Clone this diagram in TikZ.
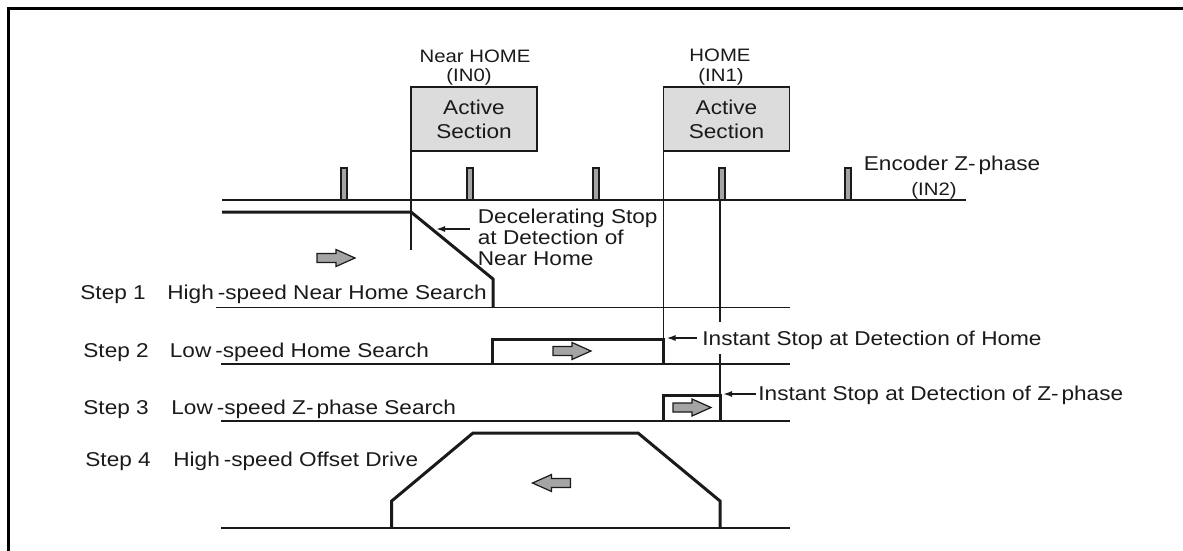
\documentclass[tikz,border=0pt]{standalone}
\usepackage{fontspec}
\setmainfont{Liberation Sans}[FakeStretch=1.13]
\usetikzlibrary{arrows.meta}
\definecolor{boxgray}{HTML}{DCDCDC}
\definecolor{arrgray}{HTML}{A4A4A4}
\definecolor{ink}{HTML}{1A1A1A}
\begin{document}
\begin{tikzpicture}[x=0.5pt,y=-0.5pt,
  frameln/.style={line width=1.5pt,draw=black},
  thinln/.style={line width=0.8pt,draw=ink},
  thickln/.style={line width=1.5pt,draw=ink,line join=miter},
  abox/.style={draw=ink,line width=0.8pt,fill=boxgray,align=center,inner sep=0pt,outer sep=0pt,
    minimum width=63pt,minimum height=32pt,anchor=north west,font=\fontsize{10pt}{12pt}\selectfont,text=ink},
  tickbar/.style={draw=ink,line width=0.6pt,fill=arrgray},
  lbl/.style={inner sep=0pt,anchor=base west,font=\fontsize{10pt}{12pt}\selectfont,text=ink},
  smalllbl/.style={inner sep=0pt,anchor=base,font=\fontsize{9pt}{10pt}\selectfont,text=ink},
  annot/.style={line width=0.8pt,draw=ink,-{Latex[length=4.5pt,width=3pt]}},
  arrfill/.style={draw=ink,line width=0.6pt,fill=arrgray,line join=miter},
  blockarr/.pic={\draw[arrfill] (0,-4.5) -- (19,-4.5) -- (19,-8.5) -- (38,0) -- (19,8.5) -- (19,4.5) -- (0,4.5) -- cycle;}
]
\useasboundingbox (0,0) rectangle (1183,551);

% frame
\draw[frameln] (8,551) -- (8,9) -- (1183,9);

% top labels
\node[smalllbl] (nearlbl) at (475,63) {Near HOME};
\node[smalllbl] (in0) at (469,82) {(IN0)};
\node[smalllbl] (homelbl) at (720,62) {HOME};
\node[smalllbl] (in1) at (721,82) {(IN1)};

% active section boxes
\node[abox] (nearbox) at (411,87) {Active\\Section};
\node[abox] (homebox) at (663.5,87) {Active\\Section};

% encoder axis and ticks
\coordinate (axL) at (222,200);
\coordinate (axR) at (966,200);
\draw[thinln] (axL) -- (axR);
\foreach \x in {344,470,596,722,848}
  \draw[tickbar] (\x-3,168) rectangle (\x+3,200);
\node[lbl] (enc) at (863.5,170) {Encoder Z-\kern1.5pt phase};
\node[smalllbl] (in2) at (934,195) {(IN2)};

% vertical detection lines
\coordinate (nearend) at (411,250);
\draw[thinln] (nearbox.south west) -- (nearend);
\coordinate (s2c) at (663.5,339);
\draw[thinln] (homebox.south west) -- (s2c);
\coordinate (zA) at (720,200);
\coordinate (zB) at (720,322);
\coordinate (zC) at (720,354);
\coordinate (s3c) at (720,395);
\draw[thinln] (zA) -- (zB);
\draw[thinln] (zC) -- (s3c);

% step 1
\draw[thinln] (216,307.5) -- (790,307.5);
\coordinate (s1a) at (222,212);
\coordinate (s1b) at (411,212);
\coordinate (s1c) at (493,279);
\coordinate (s1d) at (493,307.5);
\draw[thickln] (s1a) -- (s1b) -- (s1c) -- (s1d);
\pic at (317,258) {blockarr};

% step 2
\draw[thinln] (221,364) -- (790,364);
\coordinate (s2a) at (492,364);
\coordinate (s2b) at (492,339);
\coordinate (s2d) at (663.5,364);
\draw[thickln] (s2a) -- (s2b) -- (s2c) -- (s2d);
\pic at (553,351) {blockarr};

% step 3
\draw[thinln] (221,421) -- (790,421);
\coordinate (s3a) at (663.5,421);
\coordinate (s3b) at (663.5,395);
\coordinate (s3d) at (720,421);
\draw[thickln] (s3a) -- (s3b) -- (s3c) -- (s3d);
\pic at (673,407.5) {blockarr};

% step 4
\draw[thinln] (221,528) -- (790,528);
\coordinate (s4a) at (391.7,528);
\coordinate (s4b) at (391.7,501);
\coordinate (s4c) at (473,433);
\coordinate (s4d) at (638,433);
\coordinate (s4e) at (720,501);
\coordinate (s4f) at (720,528);
\draw[thickln] (s4a) -- (s4b) -- (s4c) -- (s4d) -- (s4e) -- (s4f);
\pic[xscale=-1] at (570.5,483) {blockarr};

% annotations
\node[lbl] (dec1) at (477.5,223) {Decelerating Stop};
\node[lbl] (dec2) at (477.5,244) {at Detection of};
\node[lbl] (dec3) at (477.5,265) {Near Home};
\coordinate (decA) at (470,229);
\coordinate (decB) at (436,229);
\draw[annot] (decA) -- (decB);

\node[lbl] (insthome) at (702,345.5) {Instant Stop at Detection of Home};
\coordinate (ihA) at (697,338);
\coordinate (ihB) at (666.5,338);
\draw[annot] (ihA) -- (ihB);

\node[lbl] (instz) at (758,400) {Instant Stop at Detection of Z-\kern1.5pt phase};
\coordinate (izA) at (756,394);
\coordinate (izB) at (723,394);
\draw[annot] (izA) -- (izB);

% step labels
\node[lbl] (st1) at (80,299) {Step 1};
\node[lbl] (d1) at (167,299) {High\kern2pt-speed Near Home Search};
\node[lbl] (st2) at (83,357) {Step 2};
\node[lbl] (d2) at (169.5,357) {Low\kern2pt-speed Home Search};
\node[lbl] (st3) at (83,414) {Step 3};
\node[lbl] (d3) at (171,414) {Low\kern2pt-speed Z-\kern1.5pt phase Search};
\node[lbl] (st4) at (85,466) {Step 4};
\node[lbl] (d4) at (173,466) {High\kern2pt-speed Offset Drive};
\end{tikzpicture}
\end{document}
